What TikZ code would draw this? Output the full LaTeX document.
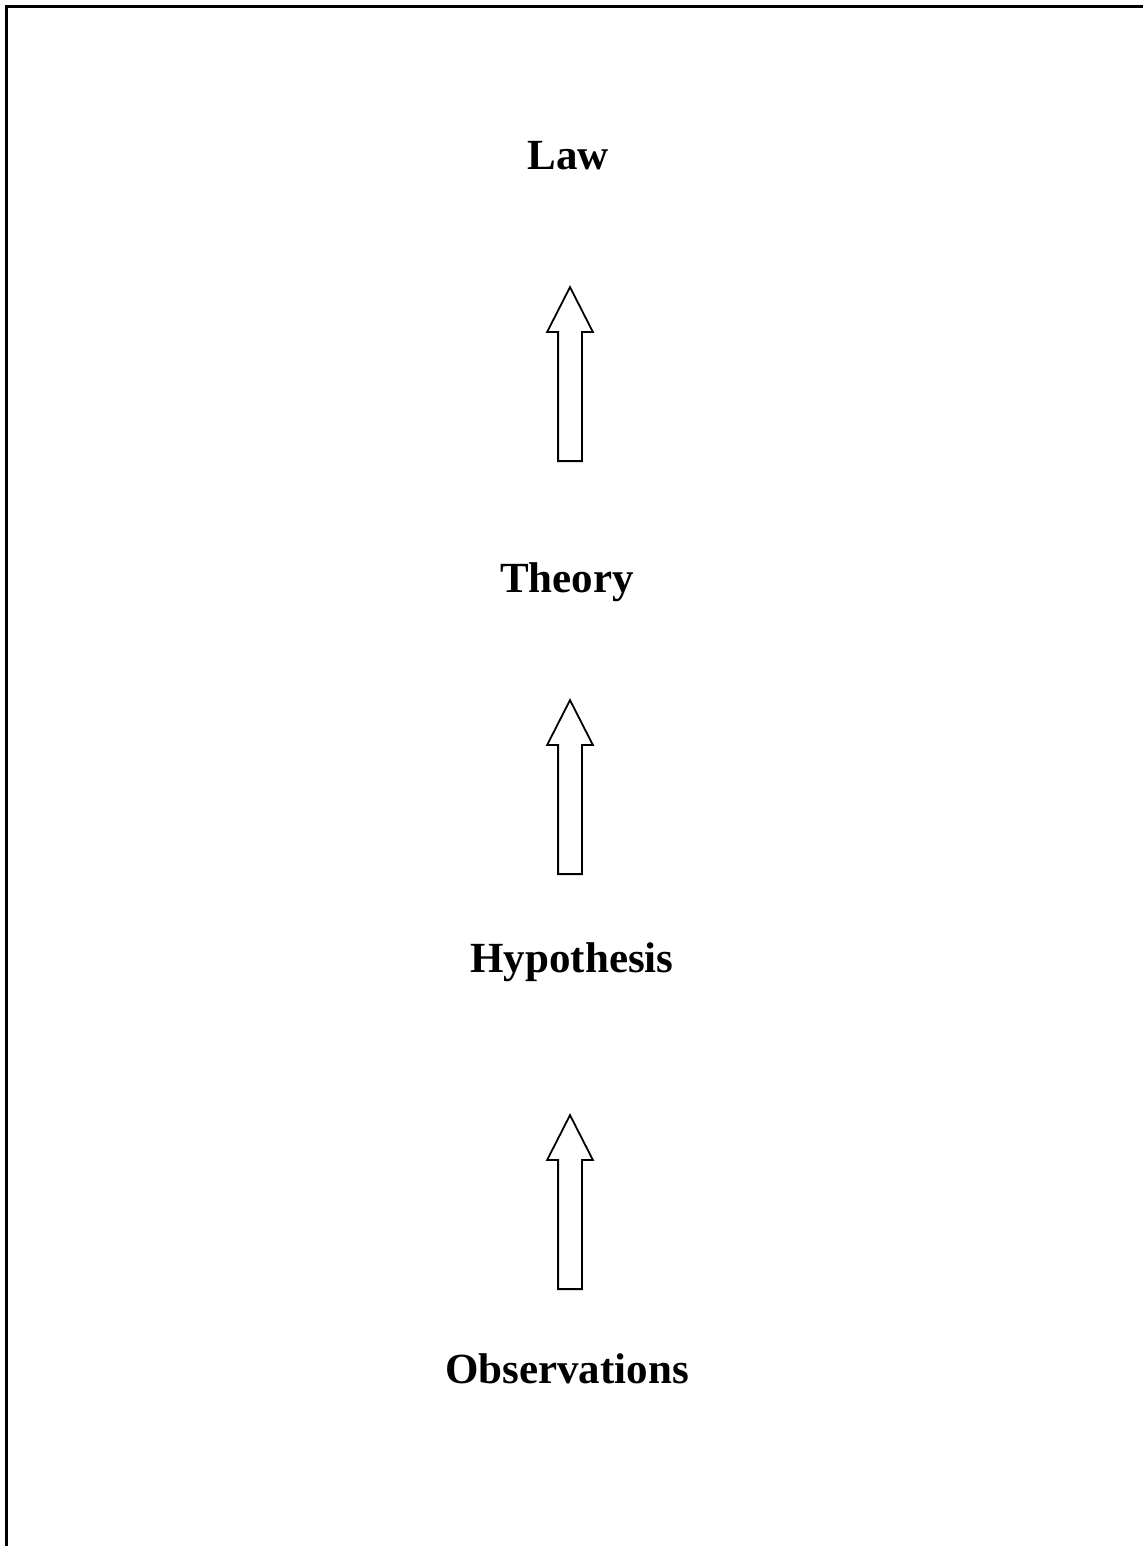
\documentclass[tikz,border=0pt]{standalone}
\usepackage{fontspec}
\setmainfont{Liberation Serif}
\usetikzlibrary{shapes.arrows, positioning}
\tikzset{
    % Labels
    stage/.style={font=\fontsize{21.5}{26}\selectfont\bfseries, inner sep=0pt, anchor=base},
    % Block arrows
    upArrow/.style={single arrow, draw, line width=0.9pt, fill=white, rotate=90,
                    inner xsep=0pt, inner ysep=5.5pt, minimum width=22pt, minimum height=87pt,
                    single arrow head extend=5.5pt, single arrow tip angle=54, anchor=tail},
    frame/.style={line width=1.1pt}
}

\begin{document}
\begin{tikzpicture}[x=0.5pt, y=-0.5pt]
\useasboundingbox (0,0) rectangle (1143,1546);

\draw[frame] (6.5,1546) -- (6.5,6.5) -- (1143,6.5);

\node[stage] (law)    at (568,170)  {Law};
\node[stage] (theory) at (567,592)  {Theory};
\node[stage] (hypo)   at (572,972)  {Hypothesis};
\node[stage] (obs)    at (567,1383) {Observations};

\node[upArrow] (a1) at (570,462)  {};
\node[upArrow] (a2) at (570,875)  {};
\node[upArrow] (a3) at (570,1290) {};

\end{tikzpicture}
\end{document}
